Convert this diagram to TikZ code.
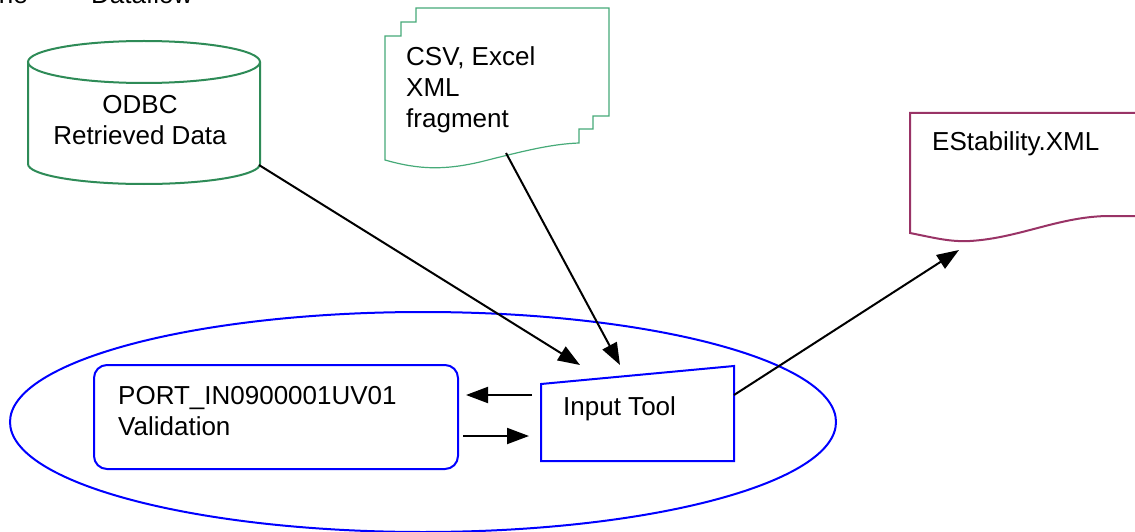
\documentclass[tikz,border=0pt]{standalone}
\usepackage{fontspec}
\setmainfont{Liberation Sans}
\usetikzlibrary{arrows.meta}
\definecolor{dbgreen}{RGB}{46,139,87}
\definecolor{docgreen}{RGB}{70,170,120}
\definecolor{xmlpurple}{RGB}{153,51,102}
\definecolor{procblue}{RGB}{0,0,255}
\tikzset{
  lbl/.style={font=\fontsize{26}{31}\selectfont, inner sep=0pt},
  flow/.style={draw=black, line width=2pt, -{Triangle[length=22pt,width=16pt]}},
  procline/.style={draw=procblue, line width=2pt},
}
\begin{document}
\begin{tikzpicture}[x=1pt,y=-1pt]
\useasboundingbox (0,0) rectangle (1135,532);
\clip (0,0) rectangle (1135,532);
\fill[white] (0,0) rectangle (1135,532);

% cut-off title
\node[lbl, anchor=base east] (t1) at (28,4) {ne};
\node[lbl, anchor=base west] (t2) at (91,4) {Dataflow};

% system boundary ellipse
\draw[procline] (423,422) ellipse [x radius=413, y radius=110];

% ODBC cylinder
\filldraw[draw=dbgreen, fill=white, line width=2pt]
  (28,62) -- (28,164) arc[start angle=180, end angle=0, x radius=116, y radius=20]
  -- (260,62);
\draw[dbgreen, line width=2pt] (144,62) ellipse [x radius=116, y radius=21];
\node[lbl, align=center, anchor=base] (odbc) at (140,145) {ODBC\\Retrieved Data};
\coordinate (odbcout) at (259,165);

% CSV multi-document
\draw[docgreen, line width=1.2pt, fill=white]
  (385,36) -- (401,36) -- (401,22) -- (416,22) -- (416,8) -- (609,8) -- (609,116)
  -- (593,116) -- (593,129) -- (579,129) -- (579,143)
  .. controls (550,144) and (520,152) .. (480,162)
  .. controls (445,170) and (420,170) .. (385,160) -- cycle;
\node[lbl, align=left, anchor=base west] (csv) at (406,128) {CSV, Excel\\XML\\fragment};
\coordinate (csvout) at (506,153);

% EStability document
\draw[xmlpurple, line width=2pt]
  (1140,113) -- (910,113) -- (910,233)
  .. controls (935,238) and (950,242) .. (970,241)
  .. controls (1020,238) and (1060,216) .. (1110,216) -- (1140,216);
\node[lbl, anchor=base west] (xml) at (932,150) {EStability.XML};
\coordinate (xmlin) at (959,250);

% Validation box
\draw[procline, rounded corners=13pt] (94,365) rectangle (458,469);
\node[lbl, align=left, anchor=base west] (val) at (118,435) {PORT\_IN0900001UV01\\Validation};
\coordinate (valin) at (466,395);
\coordinate (valout) at (463,436);

% Input Tool (manual input)
\draw[procline, fill=white] (541,384) -- (734,366) -- (734,461) -- (541,461) -- cycle;
\node[lbl, anchor=base west] (tool) at (563,415) {Input Tool};
\coordinate (toolodbc) at (580,365);
\coordinate (toolcsv) at (620,365);
\coordinate (toolout) at (734,395);
\coordinate (toolleft) at (532,395);
\coordinate (toolin) at (529,436);

% connectors
\draw[flow] (odbcout) -- (toolodbc);
\draw[flow] (csvout) -- (toolcsv);
\draw[flow] (toolout) -- (xmlin);
\draw[flow] (toolleft) -- (valin);
\draw[flow] (valout) -- (toolin);
\end{tikzpicture}
\end{document}
